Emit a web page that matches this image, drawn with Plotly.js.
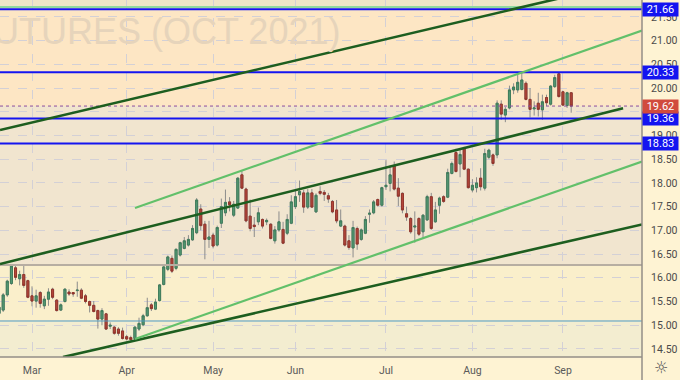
<!DOCTYPE html>
<html><head><meta charset="utf-8">
<script src="https://cdn.plot.ly/plotly-3.0.1.min.js"></script>
<style>html,body{margin:0;padding:0;background:#FEF3D3;} #chart{width:680px;height:380px;}</style>
</head><body><div id="chart"></div>
<script>
// trading days (category labels)
const tradingDays = [
  ['2021-02', [17,18,19,22,23,24,25,26]],
  ['2021-03', [1,2,3,4,5,8,9,10,11,12,15,16,17,18,19,22,23,24,25,26,29,30,31]],
  ['2021-04', [1,5,6,7,8,9,12,13,14,15,16,19,20,21,22,23,26,27,28,29,30]],
  ['2021-05', [3,4,5,6,7,10,11,12,13,14,17,18,19,20,21,24,25,26,27,28]],
  ['2021-06', [1,2,3,4,7,8,9,10,11,14,15,16,17,18,21,22,23,24,25,28,29,30]],
  ['2021-07', [1,2,6,7,8,9,12,13,14,15,16,19,20,21,22,23,26,27,28,29,30]],
  ['2021-08', [2,3,4,5,6,9,10,11,12,13,16,17,18,19,20,23,24,25,26,27,30,31]],
  ['2021-09', [1,2,3]]
];
const monthLabels = ['Mar','Apr','May','Jun','Jul','Aug','Sep'];

const opens = [15.25,15.32,15.64,15.88,16.21,15.98,16.07,15.94,15.62,15.51,15.69,15.41,15.55,15.76,15.53,15.32,15.50,15.70,15.69,15.73,
15.74,15.62,15.50,15.42,15.31,15.13,15.24,14.98,14.96,14.92,14.88,14.76,14.74,14.72,14.92,15.01,15.20,15.43,15.34,15.52,
15.86,16.18,16.41,16.20,16.48,16.62,16.69,16.80,16.95,17.45,17.13,16.81,16.90,16.69,17.15,17.37,17.60,17.32,17.47,18.17,
17.87,17.30,17.11,17.18,17.23,17.18,17.13,16.78,17.01,17.02,16.94,17.15,17.50,17.75,17.79,17.49,17.79,17.39,17.82,17.80,
17.73,17.61,17.43,17.09,17.09,16.78,16.63,17.04,16.81,16.94,17.34,17.37,17.65,17.53,17.92,17.99,18.36,17.89,17.78,17.35,
17.25,17.07,17.25,16.97,17.22,17.71,17.18,17.53,17.71,17.70,18.20,18.64,18.40,18.73,18.29,17.85,17.90,18.10,17.89,18.54,
18.59,18.59,19.66,19.43,19.58,19.96,19.96,19.97,20.10,19.76,19.56,19.68,19.54,19.80,19.66,20.03,20.30,19.92,19.63,19.90];
const highs = [15.42,15.68,15.96,16.27,16.27,16.15,16.25,15.96,15.82,15.75,15.72,15.62,15.78,15.79,15.55,15.46,15.78,15.76,15.69,15.92,
15.78,15.66,15.52,15.51,15.33,15.36,15.26,15.06,14.98,14.96,14.95,14.80,14.78,14.98,15.16,15.24,15.58,15.47,15.56,15.87,
16.25,16.47,16.47,16.62,16.76,16.86,16.90,17.11,17.68,17.55,17.20,17.20,16.95,17.10,17.67,17.86,17.70,17.62,18.12,18.26,
17.90,17.65,17.28,17.48,17.25,17.25,17.15,17.09,17.40,17.18,17.34,17.74,17.85,18.05,17.85,17.87,17.87,17.78,17.93,17.85,
17.79,17.64,17.64,17.44,17.12,16.90,17.20,17.08,17.04,17.30,17.44,17.64,17.67,17.92,18.48,18.37,18.45,18.10,17.80,17.50,
17.28,17.40,17.28,17.34,17.75,17.79,17.60,17.71,17.74,18.30,18.45,18.72,18.72,18.76,18.30,18.08,18.12,18.31,18.72,18.72,
18.62,19.74,19.74,19.60,20.05,20.10,20.34,20.33,20.14,20.00,19.72,19.90,19.86,19.86,20.06,20.28,20.33,19.94,19.92,19.91];
const lows = [15.20,15.28,15.60,15.85,15.95,15.84,15.79,15.57,15.40,15.37,15.37,15.34,15.41,15.55,15.29,15.30,15.48,15.62,15.60,15.60,
15.55,15.46,15.27,15.27,14.93,15.00,14.90,14.92,14.80,14.78,14.70,14.68,14.66,14.68,14.88,14.98,15.18,15.30,15.32,15.50,
15.84,16.14,16.10,16.16,16.45,16.60,16.66,16.78,16.92,17.00,16.39,16.63,16.62,16.66,17.05,17.30,17.40,17.28,17.45,17.87,
17.17,16.98,16.86,17.11,17.04,17.11,16.81,16.72,16.97,16.71,16.90,17.13,17.45,17.60,17.37,17.45,17.47,17.37,17.74,17.62,
17.58,17.36,17.15,17.07,16.66,16.59,16.43,16.59,16.78,16.92,17.16,17.34,17.50,17.50,17.85,17.82,17.84,17.51,17.36,17.20,
16.93,16.74,16.88,16.82,17.20,17.01,17.16,17.35,17.58,17.68,18.18,18.22,18.12,18.27,17.88,17.80,17.80,17.84,17.84,18.50,
18.36,18.52,19.33,19.28,19.55,19.87,19.90,19.95,19.74,19.38,19.42,19.40,19.33,19.62,19.63,20.00,19.80,19.62,19.58,19.48];
const closes = [15.38,15.64,15.93,16.25,16.01,16.07,15.84,15.59,15.51,15.62,15.46,15.55,15.70,15.59,15.31,15.43,15.76,15.66,15.66,15.74,
15.57,15.50,15.42,15.29,15.13,15.31,14.92,15.00,14.83,14.83,14.72,14.71,14.70,14.96,15.04,15.20,15.37,15.35,15.49,15.85,
16.23,16.44,16.14,16.60,16.74,16.78,16.81,17.04,17.64,17.10,16.81,16.86,16.67,17.06,17.50,17.59,17.54,17.55,18.10,17.89,
17.20,17.04,17.08,17.37,17.09,17.21,16.83,17.01,17.18,16.73,17.23,17.60,17.71,17.82,17.49,17.79,17.49,17.74,17.78,17.76,
17.66,17.39,17.20,17.20,16.69,16.64,17.06,16.71,17.01,17.23,17.36,17.60,17.53,17.90,17.95,18.17,17.87,17.72,17.43,17.28,
16.97,17.09,16.92,17.32,17.71,17.04,17.43,17.68,17.61,18.22,18.41,18.24,18.60,18.29,17.90,17.95,18.00,17.92,18.62,18.69,
18.41,19.68,19.45,19.55,19.96,20.02,20.12,20.17,19.76,19.55,19.58,19.55,19.71,19.69,20.04,20.22,19.82,19.64,19.90,19.62];

// price levels drawn on the chart
const blueLevels = [21.66, 20.33, 19.36, 18.83];
const lastPrice = 19.62;
const topGreenLevel = 21.71;
const greyLevel = 16.27;
const tealLevel = 15.09;
const yTicks = [14.5,15,15.5,16,16.5,17,17.5,18,18.5,19,19.5,20,20.5,21,21.5];
const yTickText = ['14.50','15.00','15.50','16.00','16.50','17.00','17.50','18.00','18.50','19.00','','20.00','20.50','21.00','21.50'];

// trend lines: [startIndex, startPrice, endIndex, endPrice, kind]
const trendLines = [
  [0.23, 19.115, 156.2, 22.30, 'dark'],
  [0.23, 16.291, 151.6, 19.573, 'dark'],
  [15.53, 14.331, 156.2, 17.125, 'dark'],
  [33.02, 17.471, 156.2, 21.212, 'light'],
  [33.02, 14.710, 156.2, 18.451, 'light']
];

const pad = d => String(d).padStart(2,'0');
const dates = tradingDays.flatMap(([m, ds]) => ds.map(d => m + '-' + pad(d)));
const monthStarts = tradingDays.slice(1).map(([m, ds]) => m + '-' + pad(ds[0]));
const bodyHi = opens.map((o,i) => Math.max(o, closes[i]));
const bodyLo = opens.map((o,i) => Math.min(o, closes[i]));

const YMIN = 14.331, YMAX = 21.855;

const wickTrace = {
  type: 'candlestick', x: dates, open: opens, high: highs, low: lows, close: closes,
  increasing: {line: {color: '#8c8c8c', width: 1}, fillcolor: '#8c8c8c'},
  decreasing: {line: {color: '#8c8c8c', width: 1}, fillcolor: '#8c8c8c'},
  hoverinfo: 'skip', showlegend: false
};
const bodyTrace = {
  type: 'candlestick', x: dates, open: opens, high: bodyHi, low: bodyLo, close: closes,
  increasing: {line: {color: '#3f7d5b', width: 1}, fillcolor: '#559a74'},
  decreasing: {line: {color: '#93352b', width: 1}, fillcolor: '#b5473b'},
  hoverinfo: 'skip', showlegend: false
};

const shapes = [];
function band(y0, y1, color) {
  shapes.push({type:'rect', xref:'paper', yref:'y', x0:0, x1:1, y0:y0, y1:y1, fillcolor:color, line:{width:0}, layer:'below'});
}
band(topGreenLevel, YMAX + 1, '#EEE6C8');
band(lastPrice, topGreenLevel, '#FDE6C4');
band(greyLevel, lastPrice, '#F1E5CF');
band(tealLevel, greyLevel, '#FAEFCB');
band(YMIN - 1, tealLevel, '#F3EDD0');

function hline(v, color, width, dash) {
  shapes.push({type:'line', xref:'paper', yref:'y', x0:0, x1:1, y0:v, y1:v, line:{color:color, width:width, dash:dash||'solid'}, layer:'above'});
}
hline(greyLevel, '#B7AEA2', 2);
hline(tealLevel, '#4C9AC4', 1);
hline(topGreenLevel, '#8FD9A0', 2);
blueLevels.forEach(v => hline(v, '#1414F0', 2));
hline(lastPrice, '#8A4FA0', 1, 'dot');

trendLines.forEach(([x0, y0, x1, y1, kind]) => {
  shapes.push({type:'line', xref:'x', yref:'y', x0:x0, y0:y0, x1:x1, y1:y1,
    line:{color: kind === 'dark' ? '#1D5E1F' : '#62C06A', width: kind === 'dark' ? 2.6 : 2.2}, layer:'above'});
});
// axis separators extending into the margins
shapes.push({type:'line', xref:'paper', yref:'paper', x0:1, x1:1, y0:-0.07, y1:1, line:{color:'#938E87', width:1.5}});
shapes.push({type:'line', xref:'paper', yref:'paper', x0:0, x1:1, y0:0, y1:0, line:{color:'#938E87', width:1.5}});

const annotations = [];
annotations.push({xref:'paper', yref:'paper', x:342/642, y:1 - 31/357, xanchor:'right', yanchor:'middle',
  text:'SUGAR FUTURES (OCT 2021)', showarrow:false, font:{family:'Liberation Sans, Arial', size:36, color:'#E6D4BB'}});
function priceTag(v, bg) {
  annotations.push({xref:'paper', yref:'y', x:1, y:v, xanchor:'left', yanchor:'middle', showarrow:false,
    text: v.toFixed(2), width:35, height:13, bgcolor:bg, borderpad:0, align:'center',
    font:{family:'Roboto, Liberation Sans', size:11, color:'#ffffff'}});
}
blueLevels.forEach(v => priceTag(v, '#1414F0'));
priceTag(lastPrice, '#D14B3D');
annotations.push({xref:'paper', yref:'paper', x:661/642, y:-11/357, xanchor:'center', yanchor:'middle', showarrow:false,
  text:'☼', font:{family:'DejaVu Sans', size:16, color:'#555555'}});

const layout = {
  width: 680, height: 380,
  margin: {l:0, r:38, t:0, b:23, pad:0},
  paper_bgcolor: '#FEF3D3', plot_bgcolor: '#F1E5CF',
  showlegend: false, dragmode: false,
  xaxis: {type:'category', range:[0.226, 156.2], tickvals: monthStarts, ticktext: monthLabels,
    showgrid:true, gridcolor:'#D3D0D6', griddash:'dash', gridwidth:1, zeroline:false,
    ticks:'outside', ticklen:3, tickcolor:'rgba(0,0,0,0)',
    tickfont:{family:'Roboto, Liberation Sans', size:10.5, color:'#5a5a5a'},
    showline:false, rangeslider:{visible:false}, fixedrange:true},
  yaxis: {side:'right', range:[YMIN, YMAX], tickvals: yTicks, ticktext: yTickText,
    showgrid:true, gridcolor:'#D3D0D6', griddash:'dash', gridwidth:1, zeroline:false,
    ticks:'outside', ticklen:6, tickcolor:'rgba(0,0,0,0)',
    tickfont:{family:'Roboto, Liberation Sans', size:10.5, color:'#4a4a4a'},
    showline:false, fixedrange:true},
  shapes: shapes, annotations: annotations
};
Plotly.newPlot('chart', [wickTrace, bodyTrace], layout, {staticPlot:true, displayModeBar:false});
</script></body></html>
